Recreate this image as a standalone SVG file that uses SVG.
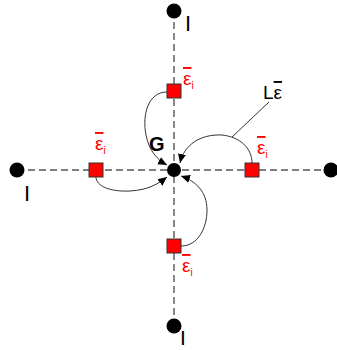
<svg xmlns="http://www.w3.org/2000/svg" width="337" height="350" viewBox="0 0 337 350">
<style>
.axis{stroke:#555;stroke-width:1.4;stroke-dasharray:7 4;fill:none}
.curve{stroke:#333;stroke-width:1;fill:none}
.dot{fill:#000}
.sq{fill:#ff0000;stroke:#333;stroke-width:1}
.lbl{font-family:"Liberation Sans",Arial,sans-serif;fill:#000}
.eps{font-family:"Liberation Sans",Arial,sans-serif;fill:#ff0000;font-size:19px}
.ov{text-decoration:overline;text-decoration-thickness:1px}
.sub{font-size:10px}
</style>
<defs>
<marker id="arr" markerUnits="userSpaceOnUse" markerWidth="10" markerHeight="10" refX="9" refY="5" orient="auto">
<path d="M0,1 L9,5 L0,9 Z" fill="#000"/>
</marker>
</defs>
<rect width="337" height="350" fill="#fff"/>
<g id="connectors">
<line class="axis" x1="17" y1="170" x2="331" y2="170"/>
<line class="axis" x1="174" y1="11" x2="174" y2="326"/>
<path class="curve" d="M167,92 C148,92 142,115 146,135 C149,150 156,159 167,165" marker-end="url(#arr)"/>
<path class="curve" d="M252,163 C252,148 240,137 222,135 C200,134 184,145 180,163" marker-end="url(#arr)"/>
<path class="curve" d="M181,246 C198,246 207,228 207,210 C207,192 196,181 181,176" marker-end="url(#arr)"/>
<path class="curve" d="M96,177 C96,186 110,192 130,191 C148,190 158,184 167,177" marker-end="url(#arr)"/>
<line class="curve" x1="232" y1="137" x2="269" y2="102" stroke="#555"/>
</g>
<g id="G">
<circle class="dot" cx="174" cy="170" r="7"/>
<text class="lbl" x="149" y="151" font-size="20" font-weight="bold">G</text>
</g>
<g id="top">
<circle class="dot" cx="174" cy="11" r="7.5"/>
<text class="lbl" x="185" y="31" font-size="22">I</text>
</g>
<g id="left">
<circle class="dot" cx="17" cy="170" r="7.5"/>
<text class="lbl" x="24" y="201" font-size="22">I</text>
</g>
<g id="right">
<circle class="dot" cx="331" cy="170" r="7.5"/>
</g>
<g id="bottom">
<circle class="dot" cx="174" cy="326" r="7.5"/>
<text class="lbl" x="180" y="345" font-size="21">I</text>
</g>
<g id="eps-top">
<rect class="sq" x="167" y="84" width="14" height="14"/>
<text class="eps" x="183" y="85"><tspan class="ov">ε</tspan><tspan class="sub" dy="4">i</tspan></text>
</g>
<g id="eps-left">
<rect class="sq" x="89" y="163" width="14" height="14"/>
<text class="eps" x="95" y="150"><tspan class="ov">ε</tspan><tspan class="sub" dy="4">i</tspan></text>
</g>
<g id="eps-right">
<rect class="sq" x="245" y="163" width="14" height="14"/>
<text class="eps" x="257" y="154"><tspan class="ov">ε</tspan><tspan class="sub" dy="4">i</tspan></text>
</g>
<g id="eps-bottom">
<rect class="sq" x="167" y="239" width="14" height="14"/>
<text class="eps" x="182" y="272"><tspan class="ov">ε</tspan><tspan class="sub" dy="4">i</tspan></text>
</g>
<g id="Leps">
<text class="lbl" x="263" y="99" font-size="19">L<tspan class="ov">ε</tspan></text>
</g>
</svg>
